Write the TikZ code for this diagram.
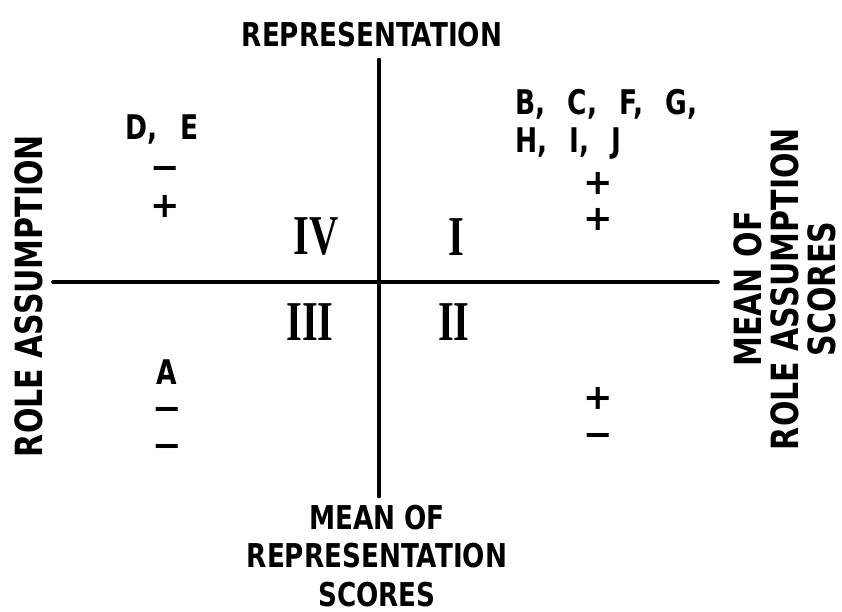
\documentclass[tikz,border=0pt]{standalone}
\usepackage{fontspec}
\usepackage{tikz}
\usetikzlibrary{positioning}
\newfontfamily\lettering[FakeStretch=0.8]{DejaVu Sans}
\newfontfamily\tagfont[FakeStretch=0.78, WordSpace=2.4]{DejaVu Sans}
\newfontfamily\signfont{DejaVu Sans}
\newfontfamily\numerals[FakeStretch=0.72]{Liberation Serif}

\begin{document}
\begin{tikzpicture}[
				x=0.03cm, y=-0.03cm,
				axis/.style={line width=3.2pt, line cap=round},
				title/.style={font=\lettering\bfseries\fontsize{28}{32.5}\selectfont, align=center, inner sep=0pt},
				side/.style={font=\lettering\bfseries\fontsize{32}{31.5}\selectfont, align=center, inner sep=0pt, rotate=90},
				tag/.style={font=\tagfont\bfseries\fontsize{29}{32.5}\selectfont, inner sep=0pt},
				sign/.style={font=\signfont\bfseries\fontsize{30}{30}\selectfont, inner sep=0pt, text height=21pt, text depth=0pt},
				quad/.style={font=\numerals\bfseries\fontsize{48}{48}\selectfont, inner sep=0pt}]
				\useasboundingbox (0,0) rectangle (842,611);
				\coordinate (north) at (379,60);
				\coordinate (south) at (379,496);
				\coordinate (west)  at (53,282);
				\coordinate (east)  at (718,282);
				\draw[axis, line width=4pt] (north) -- (south);
				\draw[axis] (west) -- (east);
				\node[title] (rep)      at (372,35)  {REPRESENTATION};
				\node[title] (repmean)  at (377,556) {MEAN OF\\REPRESENTATION\\SCORES};
				\node[side]  (role)     at (29,296)  {ROLE ASSUMPTION};
				\node[side]  (rolemean) at (785,289) {MEAN OF\\ROLE ASSUMPTION\\SCORES};
				\node[quad] (q4) at (316,237) {IV};
				\node[quad] (q1) at (456,237) {I};
				\node[quad] (q3) at (310,322) {III};
				\node[quad] (q2) at (454,322) {II};
				\node[tag] (de) at (162,130) {D, E};
				\node[sign] (de1) at (165,167) {−};
				\node[sign] (de2) at (165,205) {+};
				\node[tag, anchor=west, align=left] (bj) at (515,124) {B, C, F, G,\\H, I, J};
				\node[sign] (bj1) at (598,182) {+};
				\node[sign] (bj2) at (598,218) {+};
				\node[tag] (a) at (167,372) {A};
				\node[sign] (a1) at (167,408) {−};
				\node[sign] (a2) at (167,445) {−};
				\node[sign] (ii1) at (598,397) {+};
				\node[sign] (ii2) at (598,434) {−};
			\end{tikzpicture}
\end{document}
